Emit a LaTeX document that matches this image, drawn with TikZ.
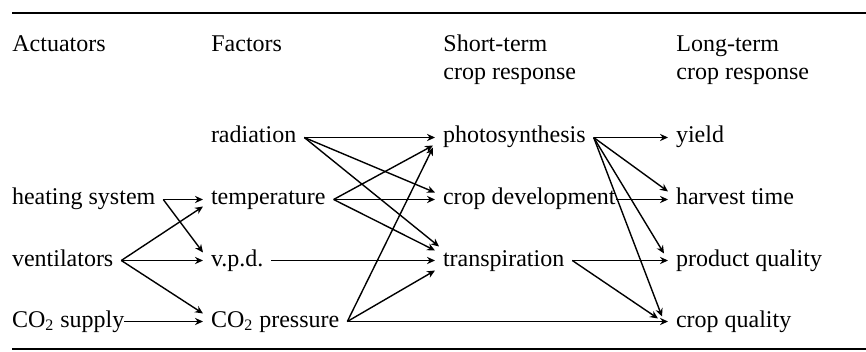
\documentclass[tikz,border=0pt]{standalone}
\usepackage{fontspec}
\setmainfont{Liberation Serif}
\usetikzlibrary{arrows.meta}

\begin{document}
\begin{tikzpicture}[x=0.5pt,y=-0.5pt,>={Stealth[length=4pt,width=3.6pt]},
    font=\fontsize{12}{14}\selectfont,
    lbl/.style={anchor=base west,inner sep=0pt,outer sep=4pt,text height=8pt,text depth=2.5pt},
    head/.style={anchor=base west,inner sep=0pt,align=left},
    arr/.style={->,line width=0.7pt}]
    \useasboundingbox (0,0) rectangle (866,352);
    \draw[line width=1pt] (12,13) -- (866,13);
    \draw[line width=1pt] (12,349) -- (866,349);
    % column headings
    \node[head] (hact)   at (12,52)  {Actuators};
    \node[head] (hfac)   at (211,52) {Factors};
    \node[head] (hshort) at (443,80) {Short-term\\crop response};
    \node[head] (hlong)  at (676,80) {Long-term\\crop response};
    % actuators
    \node[lbl] (heat) at (4,205) {heating system};
    \node[lbl] (vent) at (4,266) {ventilators};
    \node[lbl] (cos)  at (4,327) {CO\textsubscript{2} supply};
    % factors
    \node[lbl] (rad)  at (203,143) {radiation};
    \node[lbl] (temp) at (203,205) {temperature};
    \node[lbl] (vpd)  at (203,266) {v.p.d.};
    \node[lbl] (cop)  at (203,327) {CO\textsubscript{2} pressure};
    % short-term response
    \node[lbl] (phot)  at (435,143) {photosynthesis};
    \node[lbl] (dev)   at (435,205) {crop development};
    \node[lbl] (trans) at (435,266) {transpiration};
    % long-term response
    \node[lbl] (yld)   at (668,143) {yield};
    \node[lbl] (harv)  at (668,205) {harvest time};
    \node[lbl] (prodq) at (668,266) {product quality};
    \node[lbl] (cropq) at (668,327) {crop quality};
    % straight links
    \foreach \a/\b in {heat/temp,vent/vpd,rad/phot,temp/dev,vpd/trans,
                       phot/yld,trans/prodq,cop/cropq}
      \draw[arr] (\a.east) -- (\b.west);
    \draw[arr] ([xshift=-4pt]cos.east) -- (cop.west);
    \draw[arr] ([xshift=-4pt]dev.east) -- (harv.west);
    % slanted links
    \foreach \a/\b/\dx/\dy in {heat/vpd/0/4,vent/temp/0/-3.5,vent/cop/0/4,
                               rad/dev/0/3.5,rad/trans/2/7,temp/phot/-1/-4,temp/trans/0/5,
                               cop/phot/-1/-5,cop/trans/0/-5,
                               phot/harv/0/4,phot/prodq/-2/3.5,phot/cropq/-3/2.5,trans/cropq/-5/1.5}
      \draw[arr] (\a.east) -- ([xshift=\dx pt,yshift=\dy pt]\b.west);
\end{tikzpicture}
\end{document}
